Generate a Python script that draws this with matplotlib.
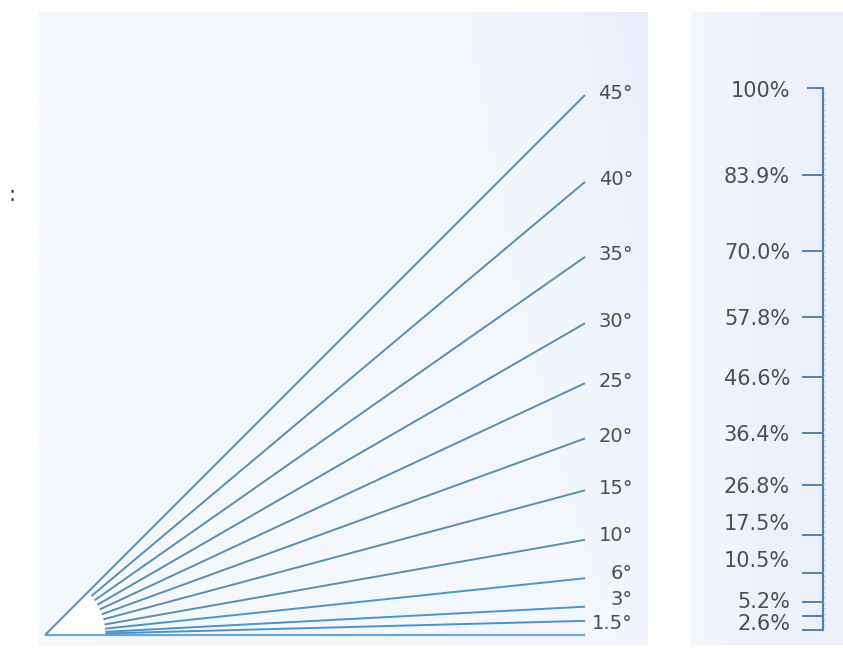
import numpy as np
import matplotlib.pyplot as plt
from matplotlib.colors import LinearSegmentedColormap
from matplotlib.patches import Wedge

angles = [1.5, 3, 6, 10, 15, 20, 25, 30, 35, 40, 45]
angle_labels = ['1.5°', '3°', '6°', '10°', '15°', '20°', '25°', '30°', '35°', '40°', '45°']
percents = [2.6, 5.2, 10.5, 17.5, 26.8, 36.4, 46.6, 57.8, 70.0, 83.9, 100.0]
percent_labels = ['2.6%', '5.2%', '10.5%', '17.5%', '26.8%', '36.4%', '46.6%',
                  '57.8%', '70.0%', '83.9%', '100%']

W, H = 843, 648
fig = plt.figure(figsize=(W / 100, H / 100), dpi=100)
fig.patch.set_facecolor('white')
plt.rcParams['font.family'] = ['DejaVu Sans']
txt_col = '#4f4f4f'
line_col = '#5a8db0'

# left panel: origin at px (45, 635), 540 px per unit
ox, oy, s = 45, 635, 540.0
L, R, T, B = 38, 648, 12, 645
ax = fig.add_axes([L / W, (H - B) / H, (R - L) / W, (B - T) / H])
ax.set_xlim((L - ox) / s, (R - ox) / s)
ax.set_ylim((oy - B) / s, (oy - T) / s)
ax.axis('off')

bg = LinearSegmentedColormap.from_list('bg', ['#f5f9fd', '#f3f7fd', '#e9edfa'])
gx = np.linspace(0, 1, 256)
gy = np.linspace(0, 1, 64)[:, None]
grad = np.clip(gx[None, :] ** 2 * (0.55 + 0.45 * gy), 0, 1)
ax.imshow(grad, cmap=bg, aspect='auto', extent=[0, 1, 0, 1],
          transform=ax.transAxes, origin='lower', zorder=0)

r0 = 0.112
ax.add_patch(Wedge((0, 0), r0, 0, 45, facecolor='white', edgecolor='none', zorder=1))
ax.plot([0, 1.0], [0, 0], color='#6aa6d6', lw=1.6, zorder=2, solid_capstyle='butt')
label_dy = {1.5: -3, 3: 7, 6: 5, 10: 4}
for a, lab in zip(angles, angle_labels):
    t = np.tan(np.radians(a))
    x1 = 1.0
    if a == 45:
        xs = [0, x1]
    else:
        xs = [r0 * np.cos(np.radians(a)), x1]
    c = '#4d93c8' if a <= 6 else line_col
    ax.plot(xs, [xs[0] * t, x1 * t], color=c, lw=1.4, zorder=2,
            solid_capstyle='butt')
    dy = label_dy.get(a, 2) / s
    ax.text(1.089, t + dy, lab, ha='right', va='center', fontsize=14,
            color=txt_col, zorder=3)

fig.text(12 / W, 1 - 195 / H, ':', ha='center', va='center', fontsize=15,
         color='#333333')

# right panel: percent scale
RL, RR = 691, 843
ax2 = fig.add_axes([RL / W, (H - B) / H, (RR - RL) / W, (B - T) / H])
p0, p100 = 630, 88
ps = (p0 - p100) / 100.0
ax2.set_xlim(RL, RR)
ax2.set_ylim((p0 - B) / ps, (p0 - T) / ps)
ax2.axis('off')
bg2 = LinearSegmentedColormap.from_list('bg2', ['#f4f7fc', '#edf0fa', '#eef0f9'])
ax2.imshow(np.tile(np.linspace(0, 1, 128), (8, 1)), cmap=bg2, aspect='auto',
           extent=[0, 1, 0, 1], transform=ax2.transAxes, zorder=0)

scale_col = '#4f82b0'
vx = 823
ax2.plot([vx, vx], [0, 100], color=scale_col, lw=1.6, zorder=2)
ax2.plot([808, vx], [100, 100], color=scale_col, lw=1.4, zorder=2)
ax2.plot([803, vx], [0, 0], color=scale_col, lw=1.4, zorder=2)
for m in np.arange(1, 100):
    ax2.plot([vx, vx + 2], [m, m], color=scale_col, lw=0.5, alpha=0.45, zorder=2)
pct_dy = {2.6: -8, 5.2: 0, 10.5: 12, 17.5: 11, 100.0: -3}
for p, lab in zip(percents, percent_labels):
    if p < 100:
        ax2.plot([803, vx], [p, p], color=scale_col, lw=1.4, zorder=2)
    dy = pct_dy.get(p, -2) / ps
    ax2.text(790, p + dy, lab, ha='right', va='center', fontsize=15,
             color=txt_col, zorder=3)

fig.savefig('out.png', dpi=100)
